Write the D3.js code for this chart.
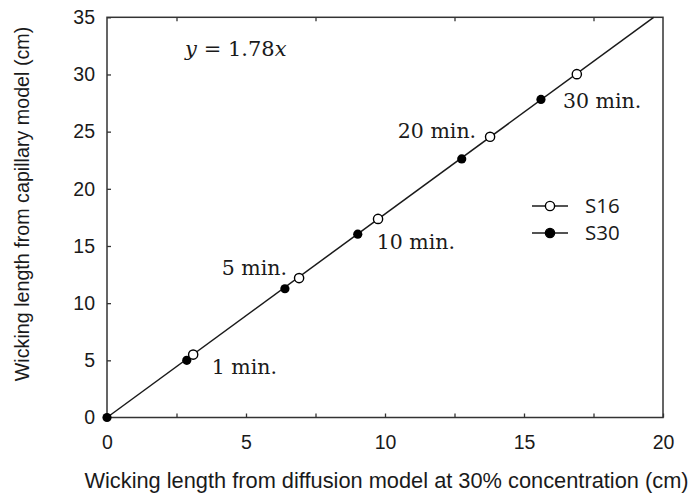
<!DOCTYPE html>
<html><head><meta charset="utf-8">
<script src="https://cdn.jsdelivr.net/npm/d3@7"></script>
<style>body{margin:0;background:#fff}svg{display:block}</style>
</head><body>
<svg id="c" width="691" height="496"></svg>
<script>
// data
const slope = 1.78;
const s16X = [3.10, 6.91, 9.75, 13.78, 16.90];
const s16Y = [5.50, 12.19, 17.37, 24.55, 30.03];
const s30X = [0, 2.87, 6.40, 9.02, 12.76, 15.61];
const s30Y = [0, 5.00, 11.26, 16.03, 22.61, 27.82];
const timeLabels = ["1 min.", "5 min.", "10 min.", "20 min.", "30 min."];
const timeLabelX = [3.77, 4.13, 9.70, 10.46, 16.40];
const timeLabelY = [3.80, 12.46, 14.74, 24.44, 27.07];
const xTicks = [0, 5, 10, 15, 20];
const yTicks = [0, 5, 10, 15, 20, 25, 30, 35];
const xMinor = [2.5, 7.5, 12.5, 17.5];
const seriesNames = ["S16", "S30"];

const svg = d3.select("#c");
const L = 107, R = 663, T = 17.3, B = 417.5;
const x = d3.scaleLinear().domain([0, 20]).range([L, R]);
const y = d3.scaleLinear().domain([0, 35]).range([B, T]);
const ink = "#1a1a1a", axisCol = "#333";
const sans = "Liberation Sans, Arial, sans-serif";

// frame
svg.append("rect").attr("x", L).attr("y", T).attr("width", R - L).attr("height", B - T)
  .attr("fill", "none").attr("stroke", axisCol).attr("stroke-width", 1.5);

// bottom axis
const xAxis = d3.axisBottom(x).tickValues(xTicks.concat(xMinor)).tickSize(-4).tickPadding(13)
  .tickFormat(d => xTicks.includes(d) ? d3.format("d")(d) : "");
const gx = svg.append("g").attr("transform", `translate(0,${B})`).call(xAxis);
gx.select(".domain").remove();
gx.selectAll("line").attr("stroke", axisCol).attr("stroke-width", 1.3);
gx.selectAll("text").attr("font-family", sans).attr("font-size", 19.5).attr("fill", ink).attr("dy", "0.95em");

// top axis minor ticks
const gt = svg.append("g").attr("transform", `translate(0,${T})`)
  .call(d3.axisTop(x).tickValues(xMinor).tickSize(-4).tickFormat(""));
gt.select(".domain").remove();
gt.selectAll("line").attr("stroke", axisCol).attr("stroke-width", 1.3);

// left axis
const yAxis = d3.axisLeft(y).tickValues(yTicks).tickSize(-4).tickPadding(12).tickFormat(d3.format("d"));
const gy = svg.append("g").attr("transform", `translate(${L},0)`).call(yAxis);
gy.select(".domain").remove();
gy.selectAll("line").attr("stroke", axisCol).attr("stroke-width", 1.3);
gy.selectAll("text").attr("font-family", sans).attr("font-size", 19.5).attr("fill", ink);

// axis titles
svg.append("text").attr("x", 386.5).attr("y", 488).attr("text-anchor", "middle")
  .attr("font-family", sans).attr("font-size", 21.8).attr("fill", ink)
  .text("Wicking length from diffusion model at 30% concentration (cm)");
svg.append("text").attr("transform", `translate(29,204) rotate(-90)`).attr("text-anchor", "middle")
  .attr("font-family", sans).attr("font-size", 19.7).attr("fill", ink)
  .text("Wicking length from capillary model (cm)");

// fit line y = slope x, clipped to frame
const xEnd = Math.min(20, 35 / slope);
svg.append("line").attr("x1", x(0)).attr("y1", y(0)).attr("x2", x(xEnd)).attr("y2", y(slope * xEnd))
  .attr("stroke", ink).attr("stroke-width", 1.5);

// markers
const r = 4.6;
svg.append("g").selectAll("circle").data(s30X).join("circle")
  .attr("cx", d => x(d)).attr("cy", (d, i) => y(s30Y[i])).attr("r", r).attr("fill", "#000");
svg.append("g").selectAll("circle").data(s16X).join("circle")
  .attr("cx", d => x(d)).attr("cy", (d, i) => y(s16Y[i])).attr("r", r)
  .attr("fill", "#fff").attr("stroke", "#000").attr("stroke-width", 1.4);

// time labels
svg.append("g").selectAll("text").data(timeLabels).join("text")
  .attr("x", (d, i) => x(timeLabelX[i])).attr("y", (d, i) => y(timeLabelY[i]))
  .attr("font-family", "DejaVu Serif, serif").attr("font-size", 20.5).attr("fill", ink)
  .text(d => d);

// equation
const eq = svg.append("text").attr("x", x(2.81)).attr("y", y(31.6))
  .attr("font-family", "DejaVu Serif, serif").attr("font-size", 21).attr("fill", ink);
eq.append("tspan").attr("font-style", "italic").text("y");
eq.append("tspan").text(" = 1.78");
eq.append("tspan").attr("font-style", "italic").text("x");

// legend
const lg = svg.append("g");
seriesNames.forEach((name, i) => {
  const ly = 206 + i * 27;
  lg.append("line").attr("x1", 532).attr("x2", 568).attr("y1", ly).attr("y2", ly)
    .attr("stroke", ink).attr("stroke-width", 1.5);
  lg.append("circle").attr("cx", 550).attr("cy", ly).attr("r", r)
    .attr("fill", i === 0 ? "#fff" : "#000").attr("stroke", "#000").attr("stroke-width", 1.4);
  lg.append("text").attr("x", 585).attr("y", ly + 7).attr("font-family", "Open Sans, Noto Sans, sans-serif")
    .attr("font-size", 20.5).attr("fill", ink).text(name);
});
</script>
</body></html>
